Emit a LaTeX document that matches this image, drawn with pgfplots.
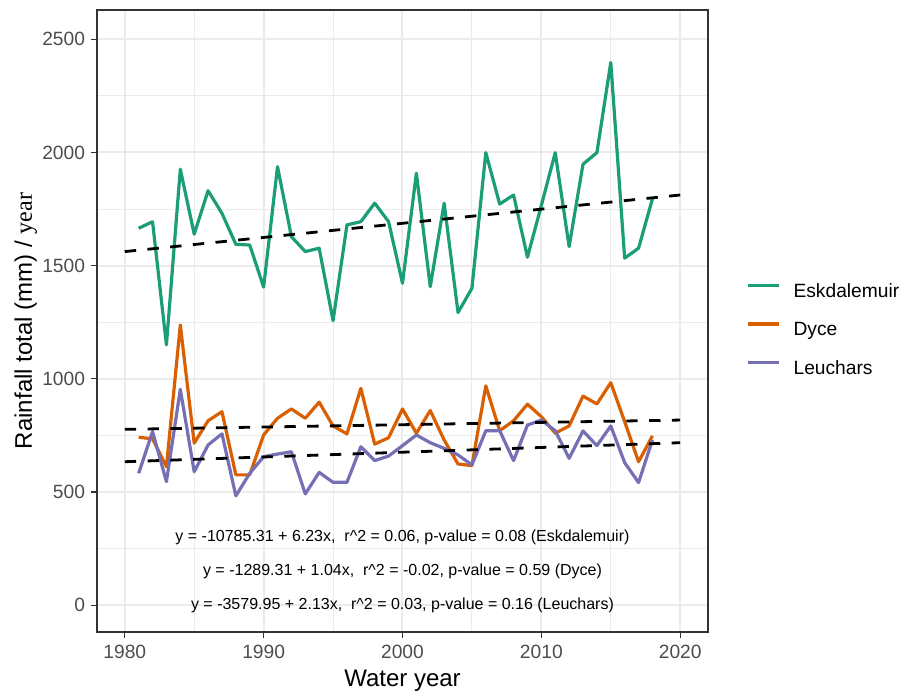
\documentclass[border=0pt]{standalone}
\usepackage{pgfplots}
\pgfplotsset{compat=1.18}
\usepackage{pgfplotstable}
\usepackage{fontspec}
\setmainfont{Liberation Sans}
\newfontfamily\seriffont{Liberation Serif}
\definecolor{dkgreen}{HTML}{1B9E77}
\definecolor{dkorange}{HTML}{D95F02}
\definecolor{dkpurple}{HTML}{7570B3}
\definecolor{grey92}{HTML}{EBEBEB}
\definecolor{grey20}{HTML}{333333}
\definecolor{grey30}{HTML}{4D4D4D}

\pgfplotstableread{
year esk dyce leu
1981 1665 742 583
1982 1694 735 767
1983 1150 612 546
1984 1926 1238 954
1985 1639 716 590
1986 1831 815 708
1987 1731 855 757
1988 1594 576 483
1989 1591 576 583
1990 1405 752 656
1991 1937 826 668
1992 1628 867 678
1993 1562 826 492
1994 1577 897 587
1995 1257 792 543
1996 1680 757 543
1997 1694 958 700
1998 1776 712 639
1999 1694 740 659
2000 1422 867 705
2001 1908 760 752
2002 1407 860 718
2003 1776 730 693
2004 1293 624 664
2005 1400 617 620
2006 1999 969 771
2007 1772 771 771
2008 1812 815 639
2009 1537 888 796
2010 1766 833 818
2011 1999 760 771
2012 1584 792 649
2013 1948 924 770
2014 1999 889 705
2015 2397 983 792
2016 1533 811 630
2017 1577 634 542
2018 1795 748 730
}\rain

\pgfplotstableread{
year esk dyce leu
1980 1562 777 634
2020 1812 818 718
}\trend

\begin{document}
\begin{tikzpicture}
\useasboundingbox (-48.5pt,-29.5pt) rectangle (404.5pt,316pt);
\begin{axis}[
  at={(0,0)}, anchor=south west,
  scale only axis, width=305.5pt, height=311pt,
  xmin=1978, xmax=2022, ymin=-118, ymax=2629,
  xtick={1980,1990,...,2020}, minor xtick={1985,1995,2005,2015},
  ytick={0,500,...,2500}, minor ytick={250,750,1250,1750,2250},
  grid=both,
  major grid style={grey92, line width=1pt},
  minor grid style={grey92, line width=0.5pt},
  axis line style={grey20, line width=0.6pt},
  tick style={grey20, line width=0.6pt},
  major tick length=2.75pt, minor tick length=0pt,
  tick align=outside,
  xtick pos=lower, ytick pos=left,
  /pgf/number format/.cd, 1000 sep={}, assume math mode=true,
  /pgfplots/.cd,
  ticklabel style={font=\fontsize{9.6}{11}\selectfont, text=grey30},
  xticklabel style={yshift=-0.5pt},
  yticklabel style={xshift=0.3pt},
  xlabel={Water year},
  ylabel={Rainfall total (mm) / {\seriffont year}},
  label style={font=\fontsize{12}{14}\selectfont},
  xlabel style={at={(axis description cs:0.5,0)}, anchor=base, yshift=-27.3pt},
  ylabel style={at={(axis description cs:0,0.5)}, anchor=base, yshift=32.6pt},
  legend style={at={(1,0.5)}, anchor=west, xshift=19pt, yshift=-5pt,
    draw=none, fill=none, font=\fontsize{9.6}{11}\selectfont,
    inner sep=0pt, row sep=10.3pt,
    nodes={inner sep=0pt, text height=6.9pt, text depth=2pt}},
  legend cell align=left,
  legend image code/.code={\draw[#1, line width=1.6pt] (0pt,3.45pt) -- (15.5pt,3.45pt);},
  /tikz/every odd column/.append style={column sep=6.5pt},
]
\addplot[dkgreen, line width=1.6pt, line join=round] table[x=year, y=esk] {\rain};
\addlegendentry{Eskdalemuir}
\addplot[dkorange, line width=1.6pt, line join=round] table[x=year, y=dyce] {\rain};
\addlegendentry{Dyce}
\addplot[dkpurple, line width=1.6pt, line join=round] table[x=year, y=leu] {\rain};
\addlegendentry{Leuchars}
\addplot[black, line width=1.4pt, dash pattern=on 5.7pt off 5.7pt, forget plot] table[x=year, y=esk] {\trend};
\addplot[black, line width=1.4pt, dash pattern=on 5.7pt off 5.7pt, forget plot] table[x=year, y=dyce] {\trend};
\addplot[black, line width=1.4pt, dash pattern=on 5.7pt off 5.7pt, forget plot] table[x=year, y=leu] {\trend};
\node[font=\fontsize{8}{9}\selectfont] at (axis cs:2000,300) {y = -10785.31 + 6.23x,~ r\textasciicircum 2 = 0.06, p-value = 0.08 (Eskdalemuir)};
\node[font=\fontsize{8}{9}\selectfont] at (axis cs:2000,150) {y = -1289.31 + 1.04x,~ r\textasciicircum 2 = -0.02, p-value = 0.59 (Dyce)};
\node[font=\fontsize{8}{9}\selectfont] at (axis cs:2000,0) {y = -3579.95 + 2.13x,~ r\textasciicircum 2 = 0.03, p-value = 0.16 (Leuchars)};
\end{axis}
\end{tikzpicture}
\end{document}
